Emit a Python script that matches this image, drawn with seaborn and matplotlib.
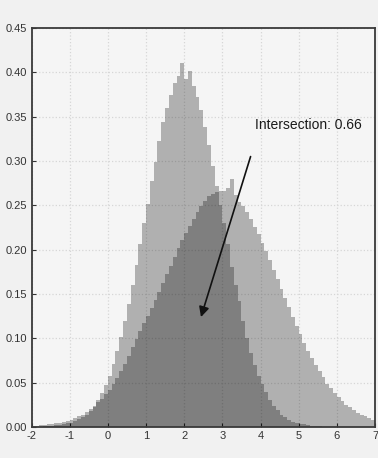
import numpy as np
import pandas as pd
import matplotlib
matplotlib.use("Agg")
import matplotlib.pyplot as plt
import seaborn as sns

# histogram heights, bins of 0.1 from -2 to 7
bin_start = -2.0
bin_width = 0.1

dist_a = [
    0.000, 0.000, 0.000, 0.001, 0.001, 0.001, 0.002, 0.002, 0.003, 0.004,
    0.005, 0.007, 0.009, 0.011, 0.014, 0.018, 0.023, 0.030, 0.038, 0.047,
    0.058, 0.071, 0.086, 0.102, 0.120, 0.139, 0.160, 0.183, 0.206, 0.230,
    0.252, 0.277, 0.299, 0.322, 0.344, 0.360, 0.374, 0.388, 0.396, 0.411,
    0.392, 0.402, 0.385, 0.372, 0.358, 0.338, 0.318, 0.294, 0.272, 0.250,
    0.230, 0.206, 0.180, 0.160, 0.142, 0.120, 0.100, 0.084, 0.070, 0.058,
    0.048, 0.039, 0.030, 0.024, 0.019, 0.014, 0.011, 0.008, 0.006, 0.005,
    0.003, 0.003, 0.002, 0.001, 0.001, 0.001, 0.000, 0.000, 0.000, 0.000,
    0.000, 0.000, 0.000, 0.000, 0.000, 0.000, 0.000, 0.000, 0.000, 0.000,
]

dist_b = [
    0.001, 0.001, 0.002, 0.002, 0.003, 0.003, 0.004, 0.005, 0.006, 0.007,
    0.008, 0.010, 0.012, 0.014, 0.017, 0.020, 0.024, 0.028, 0.032, 0.037,
    0.042, 0.048, 0.055, 0.063, 0.071, 0.080, 0.090, 0.099, 0.108, 0.117,
    0.125, 0.134, 0.143, 0.152, 0.162, 0.172, 0.182, 0.192, 0.202, 0.211,
    0.219, 0.227, 0.235, 0.242, 0.249, 0.255, 0.260, 0.263, 0.265, 0.266,
    0.266, 0.270, 0.280, 0.262, 0.254, 0.249, 0.242, 0.235, 0.226, 0.218,
    0.208, 0.198, 0.188, 0.177, 0.167, 0.156, 0.145, 0.135, 0.124, 0.114,
    0.105, 0.095, 0.086, 0.078, 0.070, 0.063, 0.056, 0.049, 0.044, 0.038,
    0.034, 0.029, 0.025, 0.022, 0.019, 0.016, 0.014, 0.012, 0.010, 0.008,
]

x_ticks = [-2, -1, 0, 1, 2, 3, 4, 5, 6, 7]
y_ticks = [0.00, 0.05, 0.10, 0.15, 0.20, 0.25, 0.30, 0.35, 0.40, 0.45]
label = "Intersection: 0.66"
arrow_tail = (3.74, 0.305)
arrow_tip = (2.44, 0.124)

sns.set_style("ticks")
plt.rcParams["font.family"] = ["Liberation Sans", "DejaVu Sans"]
plt.rcParams["axes.unicode_minus"] = False

n = len(dist_a)
edges = [bin_start + bin_width * i for i in range(n + 1)]
centers = [bin_start + bin_width * (i + 0.5) for i in range(n)]

fig = plt.figure(figsize=(3.78, 4.58), dpi=100, facecolor="#f1f1f1")
ax = fig.add_axes([31.5 / 378, 31 / 458, 343.5 / 378, 399 / 458])
ax.set_facecolor("#f5f5f5")

for vals in (dist_a, dist_b):
    df = pd.DataFrame({"x": centers, "h": vals})
    sns.histplot(data=df, x="x", weights="h", bins=edges, element="step",
                 fill=True, color="black", alpha=0.28, linewidth=0, ax=ax)

ax.set_xlim(-2, 7)
ax.set_ylim(0, 0.45)
ax.set_xticks(x_ticks)
ax.set_yticks(y_ticks)
ax.set_yticklabels([f"{v:.2f}" for v in y_ticks])
ax.set_xlabel("")
ax.set_ylabel("")
ax.grid(True, color="#d6d6d6", linestyle=":", linewidth=0.9)
ax.set_axisbelow(True)
ax.tick_params(direction="in", length=3, width=0.8, labelsize=8,
               colors="#333333", pad=3)
for sp in ax.spines.values():
    sp.set_color("#3a3a3a")
    sp.set_linewidth(1.3)

ax.annotate("", xy=arrow_tip, xytext=arrow_tail,
            arrowprops=dict(arrowstyle="-|>", color="#111111", lw=1.2,
                            mutation_scale=15, shrinkA=0, shrinkB=0))
ax.text(3.85, 0.341, label, fontsize=10, color="#1a1a1a", va="center")

fig.savefig("out.png", dpi=100, facecolor=fig.get_facecolor())
